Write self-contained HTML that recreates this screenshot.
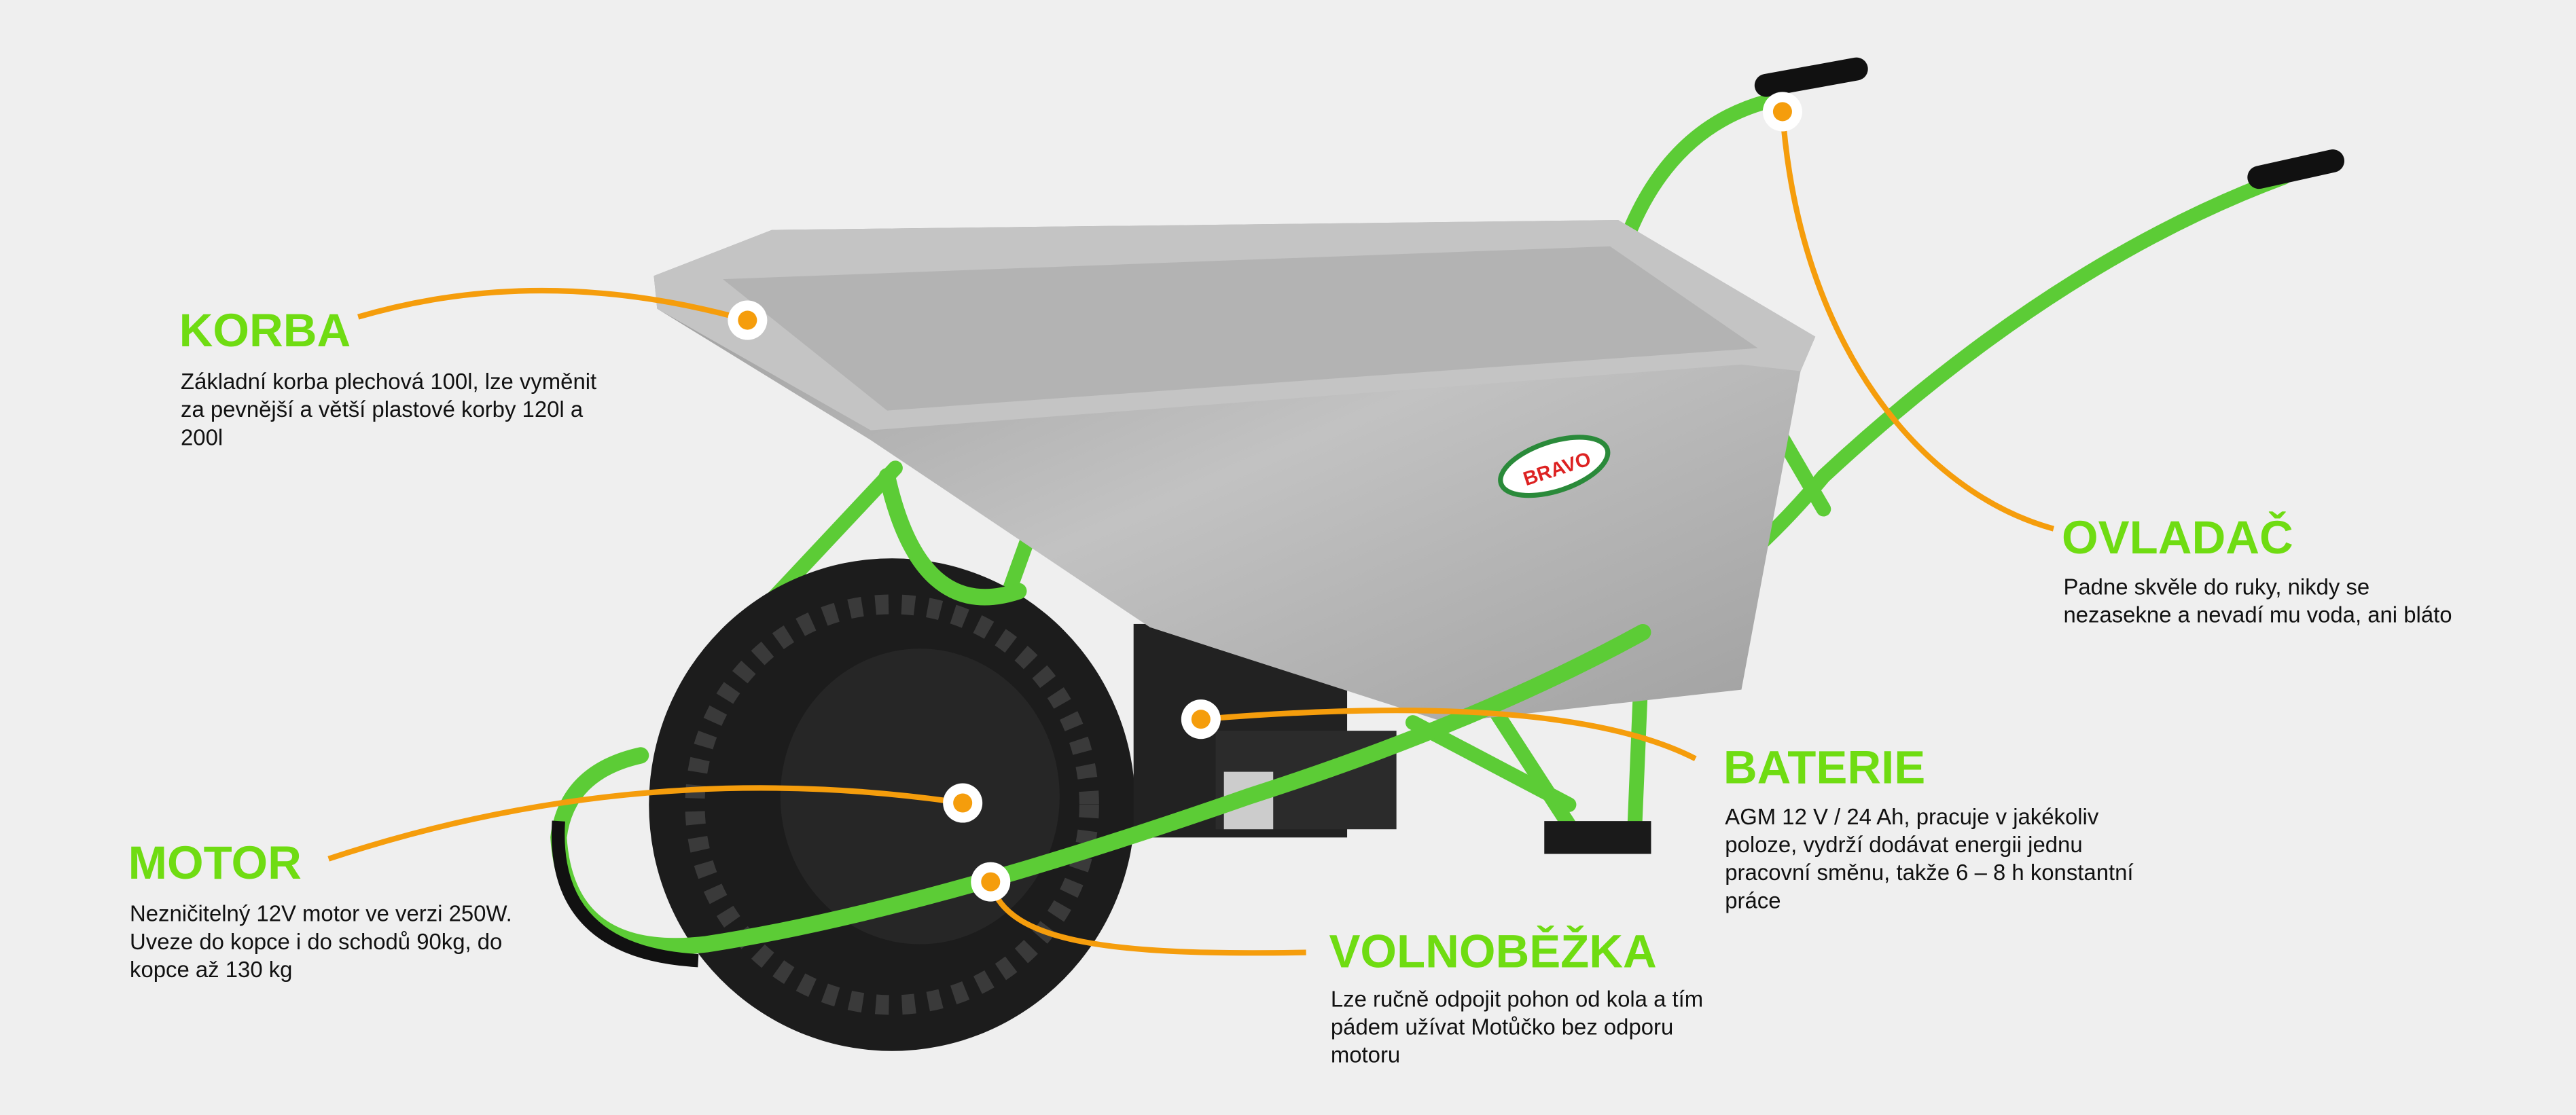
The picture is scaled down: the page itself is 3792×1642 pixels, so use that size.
<!DOCTYPE html>
<html><head><meta charset="utf-8"><style>
html,body{margin:0;padding:0;background:#efefef;}
svg{display:block}
.t{font-family:"Liberation Sans",sans-serif;font-weight:bold;fill:#6fdc12;font-size:28.5px}
.b{font-family:"Liberation Sans",sans-serif;fill:#111;font-size:13.6px}
</style></head><body>
<svg width="3792" height="1642" viewBox="0 0 1568 679" preserveAspectRatio="none" xmlns="http://www.w3.org/2000/svg">
<defs>
<linearGradient id="tub" x1="0" y1="0" x2="1" y2="1">
<stop offset="0" stop-color="#9a9a9a"/><stop offset="0.5" stop-color="#c2c2c2"/><stop offset="1" stop-color="#a0a0a0"/>
</linearGradient>
</defs>
<rect width="1568" height="679" fill="#efefef"/>
<g stroke="#5ccc36" stroke-width="9" fill="none" stroke-linecap="round">
<path d="M985 160 Q1010 80 1075 62"/>
<path d="M1390 108 Q1250 160 1110 290 Q1060 350 1000 385"/>
<path d="M1000 385 L995 505"/>
<path d="M905 425 L960 510"/>
<path d="M1075 250 L1110 310"/>
<path d="M470 365 L545 285"/>
<path d="M555 525 L625 330"/>
<path d="M860 440 L955 490"/>
</g>
<g stroke="#111" stroke-width="14" stroke-linecap="round">
<line x1="1375" y1="108" x2="1420" y2="98"/>
<line x1="1075" y1="52" x2="1130" y2="42"/>
</g>
<rect x="940" y="500" width="65" height="20" fill="#1a1a1a"/>
<ellipse cx="543" cy="490" rx="148" ry="150" fill="#1c1c1c"/>
<ellipse cx="543" cy="490" rx="120" ry="122" fill="none" stroke="#3a3a3a" stroke-width="12" stroke-dasharray="8 8"/>
<ellipse cx="560" cy="485" rx="85" ry="90" fill="#262626"/>
<rect x="690" y="380" width="130" height="130" fill="#222"/>
<rect x="740" y="445" width="110" height="60" fill="#2b2b2b"/>
<rect x="745" y="470" width="30" height="35" fill="#ccc"/>
<polygon points="398,168 470,140 985,134 1105,205 1096,226 1060,420 880,440 700,382 530,268 400,188" fill="url(#tub)"/>
<polygon points="398,168 470,140 985,134 1105,205 1096,226 1060,222 530,262 400,188" fill="#c4c4c4"/>
<polygon points="440,170 980,150 1070,212 540,250" fill="#b3b3b3"/>
<ellipse cx="946" cy="284" rx="34" ry="15" fill="#fff" stroke="#2a8a3a" stroke-width="3" transform="rotate(-18 946 284)"/>
<text x="926" y="290" font-family="Liberation Sans,sans-serif" font-weight="bold" font-size="12" fill="#d22" transform="rotate(-18 946 284)">BRAVO</text>
<g stroke="#5ccc36" stroke-width="10" fill="none" stroke-linecap="round">
<path d="M1000 385 Q900 440 760 485 Q560 555 430 575 Q345 585 340 510 Q345 470 390 460"/>
<path d="M540 290 Q560 380 620 360"/>
</g>
<path d="M340 500 Q335 580 425 585" stroke="#111" stroke-width="8" fill="none"/>
<g stroke="#f59d0c" stroke-width="3.4" fill="none">
<path d="M218 193 Q330 160 455 195"/>
<path d="M1085 68 C1095 210 1170 300 1250 322"/>
<path d="M731 438 Q950 420 1032 462"/>
<path d="M200 523 Q390 460 586 489"/>
<path d="M603 537 C612 575 680 582 795 580"/>
</g>
<g fill="#fff">
<circle cx="455" cy="195" r="12"/><circle cx="1085" cy="68" r="12"/><circle cx="731" cy="438" r="12"/><circle cx="586" cy="489" r="12"/><circle cx="603" cy="537" r="12"/>
</g>
<g fill="#f59d0c">
<circle cx="455" cy="195" r="5.8"/><circle cx="1085" cy="68" r="5.8"/><circle cx="731" cy="438" r="5.8"/><circle cx="586" cy="489" r="5.8"/><circle cx="603" cy="537" r="5.8"/>
</g>
<text class="t" x="109" y="211">KORBA</text>
<text class="b" x="110" y="237">Základní korba plechová 100l, lze vyměnit</text>
<text class="b" x="110" y="254">za pevnější a větší plastové korby 120l a</text>
<text class="b" x="110" y="271">200l</text>

<text class="t" x="1255" y="337">OVLADAČ</text>
<text class="b" x="1256" y="362">Padne skvěle do ruky, nikdy se</text>
<text class="b" x="1256" y="379">nezasekne a nevadí mu voda, ani bláto</text>

<text class="t" x="1049" y="477">BATERIE</text>
<text class="b" x="1050" y="502">AGM 12 V / 24 Ah, pracuje v jakékoliv</text>
<text class="b" x="1050" y="519">poloze, vydrží dodávat energii jednu</text>
<text class="b" x="1050" y="536">pracovní směnu, takže 6 – 8 h konstantní</text>
<text class="b" x="1050" y="553">práce</text>

<text class="t" x="78" y="535">MOTOR</text>
<text class="b" x="79" y="561">Nezničitelný 12V motor ve verzi 250W.</text>
<text class="b" x="79" y="578">Uveze do kopce i do schodů 90kg, do</text>
<text class="b" x="79" y="595">kopce až 130 kg</text>

<text class="t" x="809" y="589">VOLNOBĚŽKA</text>
<text class="b" x="810" y="613">Lze ručně odpojit pohon od kola a tím</text>
<text class="b" x="810" y="630">pádem užívat Motůčko bez odporu</text>
<text class="b" x="810" y="647">motoru</text>
</svg>
</body></html>
